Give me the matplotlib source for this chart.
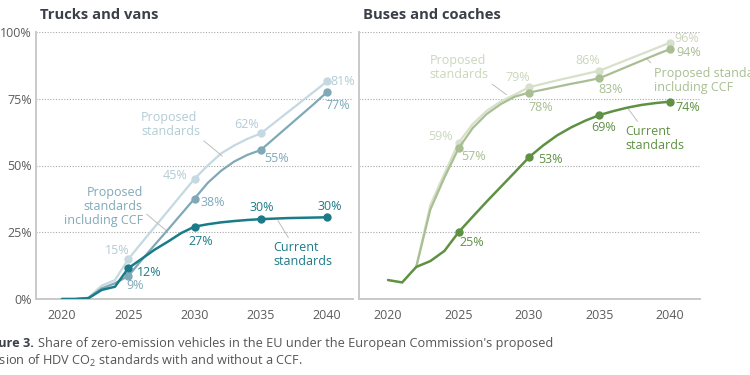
# Share of zero-emission vehicles in the EU: trucks/vans vs buses/coaches

import matplotlib.pyplot as plt

plt.rcParams['font.family'] = ['Open Sans', 'DejaVu Sans']
plt.rcParams['mathtext.fontset'] = 'custom'
plt.rcParams['mathtext.rm'] = 'Open Sans'

# ---- data ----
years = list(range(2020, 2041))
marker_years = [2025, 2030, 2035, 2040]

# trucks and vans
truck_current = [0, 0, 0.3, 3.4, 4.6, 11.5, 15, 18.5, 21.5, 24.7, 27.1,
                 28, 28.7, 29.2, 29.6, 29.9, 30.1, 30.3, 30.4, 30.5, 30.6]
truck_ccf = [0, 0, 0.4, 4, 5.9, 8.6, 14.5, 20.3, 26, 31.8, 37.6,
             43.5, 48, 51.5, 54, 55.8, 60.1, 64.4, 68.7, 73, 77.5]
truck_proposed = [0, 0, 0.5, 5, 7.1, 14.9, 21, 27, 33, 39, 45,
                  50, 54.5, 57.5, 60, 62, 65.9, 69.8, 73.7, 77.6, 81.5]
truck_current_labels = [12, 27, 30, 30]
truck_ccf_labels = [9, 38, 55, 77]
truck_proposed_labels = [15, 45, 62, 81]

# buses and coaches
bus_years = years
bus_current = [7.1, 6.2, 12, 14.2, 18, 25, 30.8, 36.5, 42, 47.5, 53.1,
               57.5, 61.3, 64.3, 66.8, 68.9, 70.4, 71.7, 72.7, 73.4, 73.9]
bus_years_proposed = years[2:]
bus_ccf = [12, 33.5, 45.5, 56.4, 64, 69.3, 73, 75.8, 77.3,
           78.4, 79.5, 80.6, 81.6, 82.7, 84.9, 87.1, 89.3, 91.5, 93.6]
bus_proposed = [12, 35.2, 47, 58.5, 65.5, 70.5, 74, 76.6, 79.3,
                80.6, 81.9, 83.1, 84.3, 85.5, 87.6, 89.7, 91.8, 93.9, 96]
bus_current_labels = [25, 53, 69, 74]
bus_ccf_labels = [57, 78, 83, 94]
bus_proposed_labels = [59, 79, 86, 96]

# colours
teal_dark, teal_mid, teal_light = '#1b7b88', '#80a9b8', '#c4d9e1'
green_dark, green_mid, green_light = '#5e9143', '#a9be92', '#d7e0cb'
grid_col = '#a9a9a9'
spine_col = '#c9c9c9'
tick_col = '#5b5b5b'
leader_col = '#bdbdbd'
fs = 9

# ---- figure ----
fig = plt.figure(figsize=(7.5, 3.75), dpi=100)
W, H = 750, 375
ax1 = fig.add_axes([36 / W, 1 - 299 / H, (353 - 36) / W, (299 - 32) / H])
ax2 = fig.add_axes([359 / W, 1 - 299 / H, (700 - 359) / W, (299 - 32) / H])


def style_axis(ax, xlim, show_ylabels):
    ax.set_xlim(*xlim)
    ax.set_ylim(0, 100)
    ax.set_xticks([2020, 2025, 2030, 2035, 2040])
    ax.set_yticks([0, 25, 50, 75, 100])
    if show_ylabels:
        ax.set_yticklabels(['0%', '25%', '50%', '75%', '100%'])
    else:
        ax.set_yticklabels([])
    ax.tick_params(length=0, labelsize=fs, colors=tick_col, pad=3)
    ax.tick_params(axis='x', pad=7)
    for y in [25, 50, 75, 100]:
        ax.axhline(y, color=grid_col, lw=0.8, ls=(0, (1, 1.5)), zorder=0)
    for s in ['top', 'right']:
        ax.spines[s].set_visible(False)
    for s in ['left', 'bottom']:
        ax.spines[s].set_color(spine_col)
        ax.spines[s].set_linewidth(1.4)


def draw_series(ax, xs, ys, color, lw, z):
    idx = [xs.index(y) for y in marker_years]
    ax.plot(xs, ys, color=color, lw=lw, marker='o', markersize=5,
            markevery=idx, zorder=z, solid_capstyle='round')


def value_labels(ax, labels, positions, color):
    for lab, (x, y) in zip(labels, positions):
        ax.text(x, y, f'{lab}%', color=color, fontsize=fs,
                ha='center', va='center')


style_axis(ax1, (2018.04, 2041.96), True)
style_axis(ax2, (2017.94, 2042.13), False)

# trucks and vans
draw_series(ax1, years, truck_proposed, teal_light, 1.6, 3)
draw_series(ax1, years, truck_ccf, teal_mid, 1.6, 4)
draw_series(ax1, years, truck_current, teal_dark, 1.8, 5)

value_labels(ax1, truck_proposed_labels,
             [(2024.15, 18.0), (2028.5, 46.1), (2033.9, 65.2), (2041.2, 81.6)],
             '#b3ccd5')
value_labels(ax1, truck_ccf_labels,
             [(2025.5, 4.9), (2031.4, 36.0), (2036.2, 52.8), (2040.8, 72.3)],
             teal_mid)
value_labels(ax1, truck_current_labels,
             [(2026.6, 9.9), (2030.5, 21.5), (2035.1, 34.1), (2040.2, 34.5)],
             teal_dark)

leader = dict(arrowstyle='-', color=leader_col, lw=0.7, shrinkA=1, shrinkB=0)
ax1.annotate('Proposed\nstandards', xy=(2032.1, 53.5), xytext=(2025.96, 65.5),
             ha='left', va='center', fontsize=fs, color='#b3ccd5',
             linespacing=1.1, arrowprops=dict(leader, relpos=(1, 0)))
ax1.annotate('Proposed\nstandards\nincluding CCF', xy=(2027.9, 25.5),
             xytext=(2026.1, 34.5), ha='right', va='center', fontsize=fs,
             color=teal_mid, linespacing=1.1,
             arrowprops=dict(leader, relpos=(1, 0.4)))
ax1.annotate('Current\nstandards', xy=(2036.3, 29.3), xytext=(2035.93, 16.5),
             ha='left', va='center', fontsize=fs, color=teal_dark,
             linespacing=1.1, arrowprops=dict(leader, relpos=(0.3, 1)))

# buses and coaches
draw_series(ax2, bus_years_proposed, bus_proposed, green_light, 1.6, 3)
draw_series(ax2, bus_years_proposed, bus_ccf, green_mid, 1.6, 4)
draw_series(ax2, bus_years, bus_current, green_dark, 1.8, 5)

value_labels(ax2, bus_proposed_labels,
             [(2023.7, 60.8), (2029.2, 83.0), (2034.16, 89.5), (2041.2, 97.4)],
             '#cbd6bc')
value_labels(ax2, bus_ccf_labels,
             [(2026.05, 53.3), (2030.8, 71.8), (2035.8, 78.5), (2041.3, 92.4)],
             green_mid)
value_labels(ax2, bus_current_labels,
             [(2025.93, 21.1), (2031.5, 52.3), (2035.3, 64.3), (2041.3, 71.8)],
             green_dark)

ax2.annotate('Proposed\nstandards', xy=(2028.4, 76.5), xytext=(2022.93, 86.6),
             ha='left', va='center', fontsize=fs, color='#cbd6bc',
             linespacing=1.1, arrowprops=dict(leader, relpos=(1, 0)))
ax2.annotate('Proposed standards\nincluding CCF', xy=(2038.3, 90.3),
             xytext=(2038.9, 82.0), ha='left', va='center', fontsize=fs,
             color=green_mid, linespacing=1.1, annotation_clip=False,
             arrowprops=dict(leader, relpos=(0, 1)))
ax2.annotate('Current\nstandards', xy=(2037.0, 71.5), xytext=(2036.85, 60.0),
             ha='left', va='center', fontsize=fs, color=green_dark,
             linespacing=1.1, arrowprops=dict(leader, relpos=(0.25, 1)))

# panel titles
fig.text(40 / W, 1 - 15 / H, 'Trucks and vans', fontsize=10.6,
         fontweight='bold', color='#3b3f48', ha='left', va='center')
fig.text(363 / W, 1 - 15 / H, 'Buses and coaches', fontsize=10.6,
         fontweight='bold', color='#3b3f48', ha='left', va='center')

# caption (starts off the left edge like the cropped original)
cap_fs = 9.2
bold = fig.text(-20 / W, 1 - 343 / H, 'Figure 3.', fontsize=cap_fs,
                fontweight='bold', color='#3b3f48', ha='left', va='center')
fig.canvas.draw()
bb = bold.get_window_extent(renderer=fig.canvas.get_renderer())
fig.text(bb.x1 / W + 4 / W, 1 - 343 / H,
         "Share of zero-emission vehicles in the EU under the European "
         "Commission's proposed", fontsize=cap_fs, color='#555555',
         ha='left', va='center')
fig.text(-23 / W, 1 - 361 / H,
         'revision of HDV CO$_2$ standards with and without a CCF.',
         fontsize=cap_fs, color='#555555', ha='left', va='center')

plt.savefig('out.png', dpi=100)
